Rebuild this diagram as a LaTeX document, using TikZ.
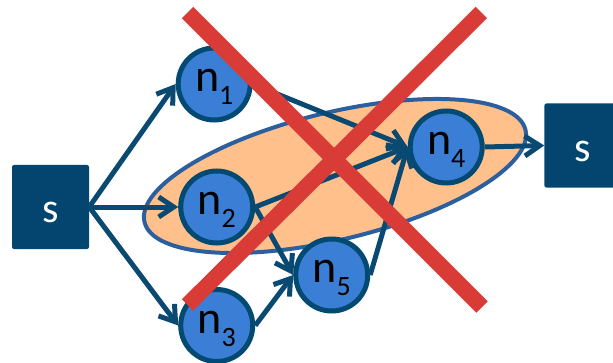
\documentclass[tikz,border=0pt]{standalone}
\usepackage{fontspec}
\setmainfont{Carlito}
\usepackage{tikz}
\usetikzlibrary{arrows.meta,positioning}
\definecolor{sqblue}{HTML}{03456E}
\definecolor{vfill}{HTML}{3A7FD5}
\definecolor{vedge}{HTML}{034A72}
\definecolor{arrowblue}{HTML}{0A4A72}
\definecolor{blobfill}{HTML}{FFC08C}
\definecolor{blobedge}{HTML}{2C5F9E}
\definecolor{crossred}{HTML}{D93B36}
\newcommand{\vname}[1]{\fontsize{46}{46}\selectfont n\raisebox{-13pt}{\fontsize{28}{28}\selectfont #1}}
\tikzset{
  term/.style={
    fill=sqblue,
    rounded corners=2pt,
    minimum width=77pt,
    minimum height=84pt,
    inner sep=0pt,
    text=white,
    text height=38pt,
    text depth=6.5pt,
    font=\fontsize{42}{42}\selectfont
  },
  vert/.style={
    circle,
    draw=vedge,
    line width=5pt,
    fill=vfill,
    minimum size=72pt,
    inner sep=0pt,
    text height=28pt,
    text depth=13pt
  },
  line/.style={
    -{Straight Barb[length=15pt,width=20pt]},
    line width=5pt,
    draw=arrowblue
  },
  blob/.style={
    draw=blobedge,
    line width=4pt,
    fill=blobfill
  },
  cross/.style={
    draw=crossred,
    line width=16pt
  }
}

\begin{document}
\begin{tikzpicture}[x=1pt, y=1pt]
  \useasboundingbox (0,0) rectangle (613,362);
  \clip (0,0) rectangle (613,362);
  % group of nodes
  \draw[blob, rotate around={13.6:(335,186)}] (335,186) ellipse [x radius=196pt, y radius=63.5pt];

  \node[term] (sL) at (50.5,155) {s};
  \node[vert, right=89pt of sL] (n2) {\vname{2}};
  \node[vert, above=46pt of n2, xshift=-2.5pt] (n1) {\vname{1}};
  \node[vert, below=41.5pt of n2] (n3) {\vname{3}};
  \node[vert, right=38pt of n2, yshift=-68pt] (n5) {\vname{5}};
  \node[vert, right=37.5pt of n5, yshift=128pt] (n4) {\vname{4}};
  \node[term, right=59.5pt of n4, yshift=1.5pt] (sR) {s};

  \draw[line] (sL.east) -- (n1.west);
  \draw[line] (sL.east) -- (n2.west);
  \draw[line] (sL.east) -- (n3.west);
  \draw[line] (n1.east) -- (n4.west);
  \draw[line] (n2.east) -- (n4.west);
  \draw[line] (n2.east) -- (n5.west);
  \draw[line] (n3.east) -- (n5.west);
  \draw[line] (n5.east) -- (n4.west);
  \draw[line] (n4.east) -- (sR.west);

  % crossed out
  \draw[cross] (187.5,349.5) -- (482,55);
  \draw[cross] (481.3,349.5) -- (187.5,57);
\end{tikzpicture}
\end{document}
